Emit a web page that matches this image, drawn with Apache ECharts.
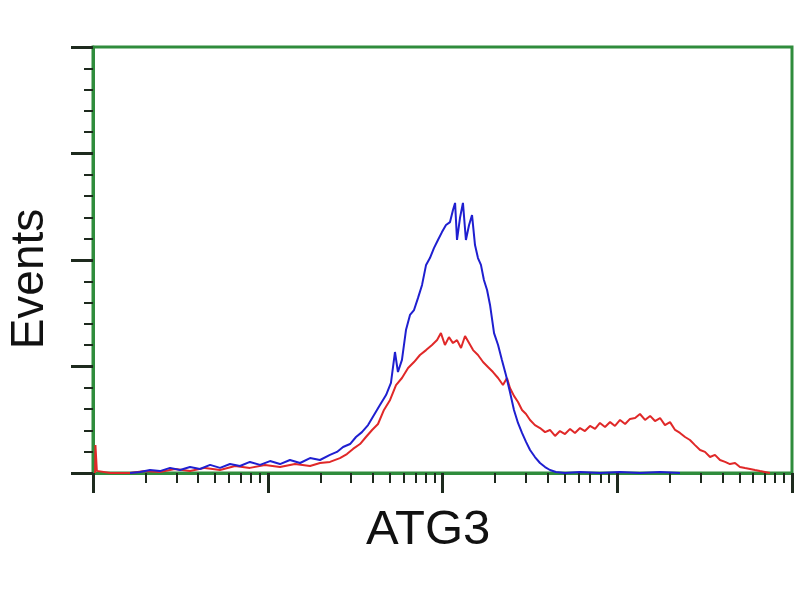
<!DOCTYPE html>
<html>
<head>
<meta charset="utf-8">
<script src="https://cdn.jsdelivr.net/npm/echarts@6/dist/echarts.min.js"></script>
<style>html,body{margin:0;padding:0;background:#fff}#c{width:800px;height:600px}</style>
</head>
<body>
<div id="c"></div>
<script>
// x in decades (log10 of ATG3 intensity), y in events
const majorTicksX = [0, 1, 2, 3, 4];
const minorTicksX = [
  0.301, 0.477, 0.602, 0.699, 0.778, 0.845, 0.903, 0.954,
  1.301, 1.477, 1.602, 1.699, 1.778, 1.845, 1.903, 1.954,
  2.301, 2.477, 2.602, 2.699, 2.778, 2.845, 2.903, 2.954,
  3.301, 3.477, 3.602, 3.699, 3.778, 3.845, 3.903, 3.954
];
const yTicks = [0, 50, 100, 150, 200];

const bluePoints = [
  [0.212,0],[0.269,0.5],[0.326,1.4],[0.383,0.9],[0.441,2.4],[0.498,1.4],[0.555,2.8],[0.612,1.9],
  [0.670,3.8],[0.727,2.4],[0.784,4.2],[0.841,3.3],[0.898,5.2],[0.956,3.8],[1.013,5.6],[1.070,4.2],
  [1.127,6.1],[1.185,4.7],[1.242,7.0],[1.299,6.1],[1.356,8.5],[1.396,9.9],[1.431,12.2],[1.471,13.6],
  [1.505,16.9],[1.539,19.2],[1.574,22.5],[1.608,27.2],[1.642,31.9],[1.677,36.6],[1.705,42.3],[1.728,56.8],
  [1.745,47.4],[1.768,53.1],[1.791,67.1],[1.814,74.2],[1.837,76.5],[1.860,82.2],[1.883,88.3],[1.906,97.7],
  [1.928,100.9],[1.951,105.6],[1.974,109.4],[1.997,113.1],[2.020,116.4],[2.043,117.8],[2.060,123.5],[2.072,126.8],
  [2.083,109.4],[2.100,119.7],[2.117,126.8],[2.134,109.4],[2.152,116.4],[2.169,121.1],[2.186,107.0],[2.203,100.9],
  [2.220,97.7],[2.237,90.6],[2.255,85.9],[2.272,78.9],[2.295,65.7],[2.318,60.1],[2.340,53.1],[2.363,46.0],
  [2.386,38.0],[2.409,29.6],[2.432,23.5],[2.455,18.8],[2.478,14.6],[2.501,10.8],[2.529,7.5],[2.558,4.7],
  [2.587,2.8],[2.615,1.4],[2.649,0.5],[2.701,0],[2.787,0.5],[2.901,0],[3.016,0.5],[3.130,0],[3.245,0.5],[3.359,0]
];

const redPoints = [
  [0.012,0],[0.014,13.1],[0.022,1],[0.1,0],
  [0.212,0],[0.298,0.9],[0.383,0.5],[0.469,1.9],[0.555,0.9],[0.641,2.4],[0.727,1.4],[0.813,3.3],
  [0.898,2.4],[0.984,3.8],[1.070,2.8],[1.156,4.2],[1.242,3.3],[1.299,4.7],[1.356,5.2],[1.413,7.0],
  [1.453,8.9],[1.488,11.3],[1.528,13.6],[1.562,16.9],[1.597,20.2],[1.631,23.0],[1.665,29.6],[1.700,34.3],
  [1.734,41.3],[1.768,44.6],[1.803,49.3],[1.837,52.1],[1.871,55.4],[1.906,57.7],[1.940,60.1],[1.969,62.4],
  [1.991,65.7],[2.014,60.1],[2.037,63.8],[2.060,61.0],[2.083,62.4],[2.106,58.7],[2.129,64.3],[2.152,61.0],
  [2.175,57.7],[2.203,55.4],[2.232,52.1],[2.260,49.8],[2.289,47.4],[2.318,44.6],[2.346,41.3],[2.369,44.6],
  [2.386,39.9],[2.409,36.2],[2.432,33.3],[2.455,29.6],[2.478,27.7],[2.501,24.9],[2.529,22.5],[2.558,21.1],
  [2.587,19.2],[2.615,20.2],[2.644,17.4],[2.672,19.7],[2.701,18.3],[2.730,20.7],[2.758,18.8],[2.787,21.1],
  [2.815,19.7],[2.844,22.1],[2.873,20.7],[2.901,23.5],[2.930,21.6],[2.959,23.9],[2.987,22.1],[3.016,24.9],
  [3.045,23.0],[3.073,25.4],[3.102,25.8],[3.130,27.7],[3.159,24.9],[3.188,26.8],[3.216,24.4],[3.245,25.8],
  [3.273,22.5],[3.302,23.9],[3.331,20.2],[3.359,18.8],[3.388,16.9],[3.416,15.5],[3.445,13.1],[3.474,10.8],
  [3.502,9.9],[3.531,7.5],[3.559,8.5],[3.588,6.1],[3.617,5.2],[3.645,4.2],[3.674,4.7],[3.702,2.8],
  [3.731,2.3],[3.760,1.9],[3.788,1.4],[3.817,0.9],[3.845,0.5],[3.874,0]
];

const green = '#2f8c3c';
const tickColor = '#1e2a1e';

const chart = echarts.init(document.getElementById('c'));
chart.setOption({
  animation: false,
  backgroundColor: '#ffffff',
  grid: { left: 93, right: 8, top: 47, bottom: 127, show: true, borderColor: green, borderWidth: 3, backgroundColor: 'transparent' },
  graphic: [
    { type: 'text', left: 366, top: 506, style: { text: 'ATG3', font: '49px "Liberation Sans", Arial, sans-serif', fill: '#111' } },
    { type: 'text', x: 7, y: 279, rotation: Math.PI / 2,
      style: { text: 'Events', font: '46px "Liberation Sans", Arial, sans-serif', fill: '#111', align: 'center', verticalAlign: 'top' } }
  ],
  xAxis: [
    {
      type: 'value', min: 0, max: 4, interval: 1, position: 'bottom',
      axisLine: { show: true, onZero: false, lineStyle: { color: green, width: 3 } },
      axisTick: { show: true, length: 20, customValues: majorTicksX, lineStyle: { color: tickColor, width: 3 } },
      axisLabel: { show: false }, splitLine: { show: false }
    },
    {
      type: 'value', min: 0, max: 4, position: 'bottom', offset: 0,
      axisLine: { show: false },
      axisTick: { show: true, length: 10, customValues: minorTicksX, lineStyle: { color: tickColor, width: 2 } },
      axisLabel: { show: false }, splitLine: { show: false }
    }
  ],
  yAxis: {
    type: 'value', min: 0, max: 200, interval: 50,
    axisLine: { show: true, lineStyle: { color: green, width: 3 } },
    axisTick: { show: true, length: 22, customValues: yTicks, lineStyle: { color: tickColor, width: 3 } },
    minorTick: { show: true, splitNumber: 5, length: 9, lineStyle: { color: tickColor, width: 2 } },
    axisLabel: { show: false }, splitLine: { show: false }
  },
  series: [
    { type: 'line', data: redPoints, xAxisIndex: 0, symbol: 'none', lineStyle: { color: '#e02828', width: 2 }, z: 3 },
    { type: 'line', data: bluePoints, xAxisIndex: 0, symbol: 'none', lineStyle: { color: '#1f1fd0', width: 2 }, z: 4 }
  ]
});
</script>
</body>
</html>
